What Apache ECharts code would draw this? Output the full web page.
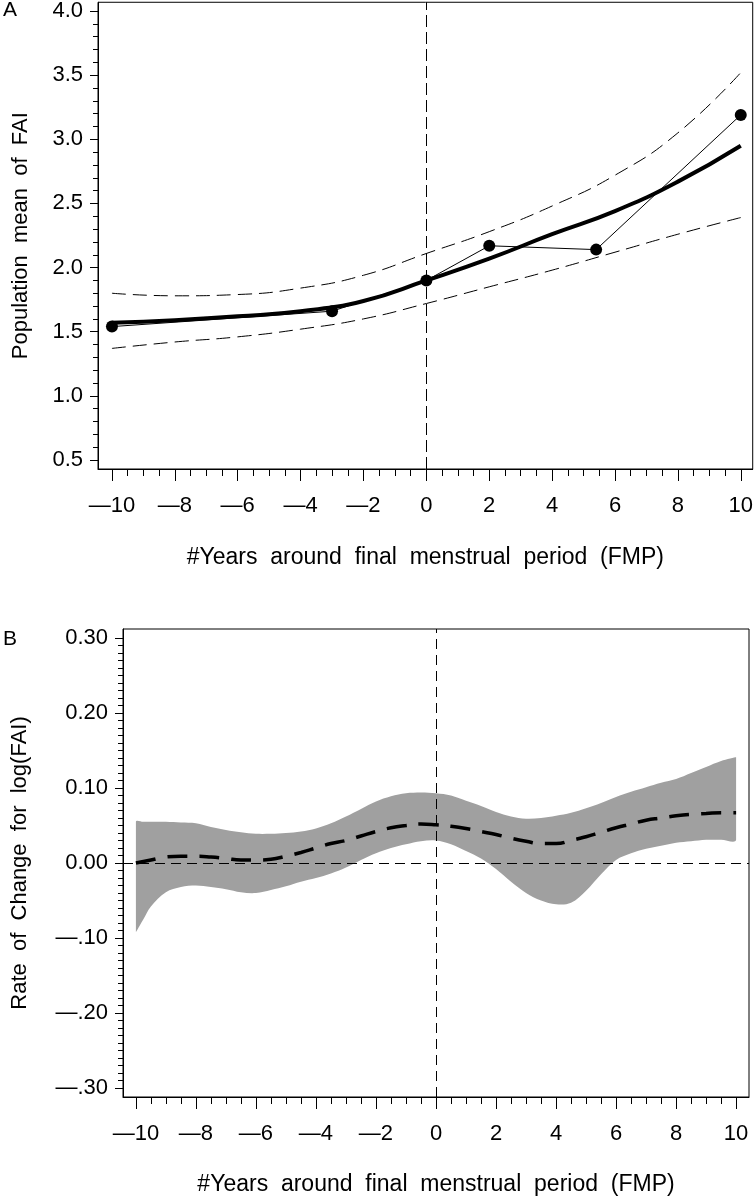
<!DOCTYPE html>
<html>
<head>
<meta charset="utf-8">
<script src="https://cdn.jsdelivr.net/npm/echarts@6/dist/echarts.min.js"></script>
<style>
html,body{margin:0;padding:0;background:#fff;}
#chart{width:756px;height:1199px;}
</style>
</head>
<body>
<div id="chart"></div>
<script>
// ---- Panel A data ----
var fitX      = [-10, -8, -6, -4, -2, 0, 2, 4, 6, 8, 10];
var fitMean   = [1.57, 1.59, 1.62, 1.66, 1.74, 1.90, 2.07, 2.26, 2.44, 2.67, 2.95];
var fitUpper  = [1.80, 1.78, 1.79, 1.84, 1.94, 2.11, 2.28, 2.48, 2.72, 3.05, 3.52];
var fitLower  = [1.37, 1.42, 1.46, 1.52, 1.60, 1.72, 1.85, 1.98, 2.12, 2.26, 2.39];
var obsX      = [-10, -3, 0, 2, 5.4, 10];
var obsMean   = [1.54, 1.66, 1.90, 2.17, 2.14, 3.19];
var yTicksA   = [0.5, 1.0, 1.5, 2.0, 2.5, 3.0, 3.5, 4.0];

// ---- Panel B data ----
var rateX     = [-10, -9.75, -9.5, -9, -8.5, -8, -7.5, -7, -6.5, -6, -5.5, -5, -4.5, -4, -3.5, -3, -2.5, -2, -1.5, -1, -0.5, 0, 0.5, 1, 1.5, 2, 2.5, 3, 3.5, 4, 4.5, 5, 5.5, 6, 6.5, 7, 7.5, 8, 8.5, 9, 9.5, 10];
var rateUpper = [0.055, 0.055, 0.055, 0.055, 0.054, 0.053, 0.048, 0.044, 0.041, 0.039, 0.039, 0.040, 0.042, 0.046, 0.053, 0.062, 0.072, 0.082, 0.089, 0.093, 0.094, 0.093, 0.090, 0.083, 0.076, 0.068, 0.062, 0.059, 0.060, 0.063, 0.067, 0.073, 0.080, 0.088, 0.095, 0.101, 0.107, 0.112, 0.120, 0.128, 0.136, 0.141];
var rateLower = [-0.092, -0.075, -0.058, -0.039, -0.032, -0.030, -0.032, -0.035, -0.039, -0.040, -0.036, -0.031, -0.025, -0.020, -0.014, -0.006, 0.004, 0.013, 0.020, 0.025, 0.029, 0.030, 0.025, 0.016, 0.006, -0.008, -0.025, -0.040, -0.050, -0.055, -0.053, -0.037, -0.015, 0.004, 0.013, 0.019, 0.023, 0.027, 0.029, 0.031, 0.031, 0.031];
var rateEst   = [0.000, 0.002, 0.004, 0.008, 0.009, 0.009, 0.008, 0.006, 0.004, 0.004, 0.005, 0.009, 0.014, 0.020, 0.026, 0.030, 0.036, 0.042, 0.047, 0.050, 0.052, 0.051, 0.049, 0.046, 0.042, 0.038, 0.033, 0.029, 0.026, 0.026, 0.030, 0.035, 0.041, 0.047, 0.052, 0.057, 0.060, 0.063, 0.065, 0.066, 0.067, 0.067];
var yTicksB   = [-0.30, -0.20, -0.10, 0.00, 0.10, 0.20, 0.30];

var xTicks    = [-10, -8, -6, -4, -2, 0, 2, 4, 6, 8, 10];

function pairs(xs, ys){ return xs.map(function(x,i){ return [x, ys[i]]; }); }
function range(a, b, step){ var r=[]; for(var v=a; v<=b+1e-9; v+=step) r.push(Math.round(v*1000)/1000); return r; }

var FONT = 'Liberation Sans, Arial, Helvetica, sans-serif';
var TXT = {color:'#000', fontFamily:FONT, fontSize:22};
var TITLE_X = {color:'#000', fontFamily:FONT, fontSize:23};
var TITLE_Y = {color:'#000', fontFamily:FONT, fontSize:22};

var xMinorTicks = range(-10, 10, 0.5);
var yMinorA = range(0.5, 4.0, 0.1);
var yMinorB = range(-0.30, 0.30, 0.01);

function xFmt(v){ return v < 0 ? '\u2014' + Math.abs(v) : String(v); }
function yFmtB(v){
  if (Math.abs(v) < 1e-9) return '0.00';
  if (v > 0) return v.toFixed(2);
  return '\u2014' + Math.abs(v).toFixed(2).replace(/^0/, '');
}

function majorX(gridIndex, min, max, name, gap){
  return {
    type:'value', gridIndex:gridIndex, position:'bottom', min:min, max:max,
    axisLine:{show:true, onZero:false, lineStyle:{color:'#000', width:1}},
    axisTick:{show:true, length:12, customValues:xTicks, lineStyle:{color:'#000', width:1}},
    axisLabel:Object.assign({show:true, margin:26, customValues:xTicks, formatter:xFmt}, TXT),
    splitLine:{show:false},
    name:name, nameLocation:'middle', nameGap:gap, nameTextStyle:TITLE_X
  };
}
function minorX(gridIndex, min, max){
  return {
    type:'value', gridIndex:gridIndex, position:'bottom', min:min, max:max,
    axisLine:{show:false, onZero:false},
    axisTick:{show:true, length:7, customValues:xMinorTicks, lineStyle:{color:'#000', width:1}},
    axisLabel:{show:false}, splitLine:{show:false}
  };
}
function majorY(gridIndex, min, max, ticks, fmt, name, gap){
  return {
    type:'value', gridIndex:gridIndex, position:'left', min:min, max:max,
    axisLine:{show:true, onZero:false, lineStyle:{color:'#000', width:1}},
    axisTick:{show:true, length:8, customValues:ticks, lineStyle:{color:'#000', width:1}},
    axisLabel:Object.assign({show:true, margin:15, customValues:ticks, formatter:fmt}, TXT),
    splitLine:{show:false},
    name:name, nameLocation:'middle', nameRotate:90, nameGap:gap, nameTextStyle:TITLE_Y
  };
}
function minorY(gridIndex, min, max, ticks){
  return {
    type:'value', gridIndex:gridIndex, position:'left', min:min, max:max,
    axisLine:{show:false, onZero:false},
    axisTick:{show:true, length:5, customValues:ticks, lineStyle:{color:'#000', width:1}},
    axisLabel:{show:false}, splitLine:{show:false}
  };
}

var AXmin = -10.444, AXmax = 10.38;
var AYmin = 0.43, AYmax = 4.068;
var BXmin = -10.43, BXmax = 10.43;
var BYmin = -0.312, BYmax = 0.312;

var option = {
  backgroundColor:'#fff',
  animation:false,
  grid:[
    {left:98, top:2, width:655, height:467, show:true, borderColor:'#000', borderWidth:1, backgroundColor:'transparent'},
    {left:123, top:629, width:626, height:468, show:true, borderColor:'#000', borderWidth:1, backgroundColor:'transparent'}
  ],
  xAxis:[
    majorX(0, AXmin, AXmax, '#Years  around  final  menstrual  period  (FMP)', 77),
    minorX(0, AXmin, AXmax),
    majorX(1, BXmin, BXmax, '#Years  around  final  menstrual  period  (FMP)', 76),
    minorX(1, BXmin, BXmax)
  ],
  yAxis:[
    majorY(0, AYmin, AYmax, yTicksA, function(v){ return v.toFixed(1); }, 'Population  mean  of  FAI', 66),
    minorY(0, AYmin, AYmax, yMinorA),
    majorY(1, BYmin, BYmax, yTicksB, yFmtB, 'Rate  of  Change  for  log(FAI)', 92),
    minorY(1, BYmin, BYmax, yMinorB)
  ],
  graphic:[
    {type:'text', left:3, top:0, style:{text:'A', fill:'#000', font:'21px ' + FONT}},
    {type:'text', left:3, top:629, style:{text:'B', fill:'#000', font:'21px ' + FONT}}
  ],
  series:[
    // Panel A
    {type:'line', xAxisIndex:0, yAxisIndex:0, data:pairs(fitX, fitUpper), smooth:true, symbol:'none',
     lineStyle:{color:'#000', width:1, type:[14,7]}, z:2,
     markLine:{silent:true, symbol:'none', label:{show:false},
       lineStyle:{color:'#000', width:1, type:[12,5]}, data:[{xAxis:0}]}},
    {type:'line', xAxisIndex:0, yAxisIndex:0, data:pairs(fitX, fitLower), smooth:true, symbol:'none',
     lineStyle:{color:'#000', width:1, type:[14,7]}, z:2},
    {type:'line', xAxisIndex:0, yAxisIndex:0, data:pairs(fitX, fitMean), smooth:true, symbol:'none',
     lineStyle:{color:'#000', width:4}, z:3},
    {type:'line', xAxisIndex:0, yAxisIndex:0, data:pairs(obsX, obsMean), symbol:'circle', symbolSize:12,
     itemStyle:{color:'#000'}, lineStyle:{color:'#000', width:1}, z:4},
    // Panel B: reference lines
    {type:'line', xAxisIndex:2, yAxisIndex:2, data:[], symbol:'none', z:1,
     markLine:{silent:true, symbol:'none', label:{show:false},
       lineStyle:{color:'#000', width:1, type:[10,6]}, data:[{xAxis:0},{yAxis:0}]}},
    // Panel B: confidence band as one polygon through the axis scales
    {type:'custom', xAxisIndex:2, yAxisIndex:2, silent:true, z:2,
     data:[[rateX[0], rateLower[0]]],
     renderItem:function(params, api){
       var pts = [], i;
       for (i = 0; i < rateX.length; i++) pts.push(api.coord([rateX[i], rateUpper[i]]));
       for (i = rateX.length - 1; i >= 0; i--) pts.push(api.coord([rateX[i], rateLower[i]]));
       return {type:'polygon', shape:{points:pts, smooth:0.35, smoothConstraint:[pts[0].slice(), pts[0].slice()]},
               style:{fill:'#a0a0a0', stroke:null}};
     }},
    {type:'line', xAxisIndex:2, yAxisIndex:2, data:pairs(rateX, rateEst), smooth:true, symbol:'none',
     lineStyle:{color:'#000', width:3.5, type:[20,12]}, z:3}
  ]
};

var chart = echarts.init(document.getElementById('chart'), null, {renderer:'canvas'});
chart.setOption(option);
</script>
</body>
</html>
